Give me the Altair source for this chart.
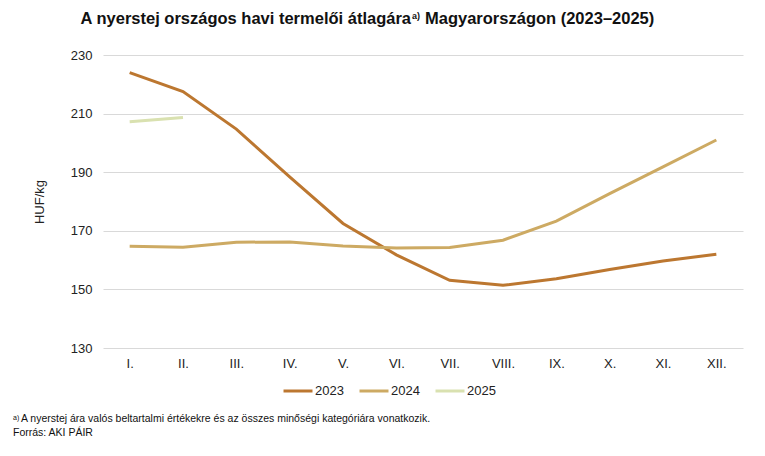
import altair as alt
import pandas as pd

months = ["I.", "II.", "III.", "IV.", "V.", "VI.", "VII.", "VIII.", "IX.", "X.", "XI.", "XII."]
v2023 = [224.0, 217.5, 204.7, 188.4, 172.5, 161.8, 153.1, 151.4, 153.6, 156.8, 159.7, 162.0]
v2024 = [164.7, 164.4, 166.1, 166.2, 164.8, 164.1, 164.3, 166.8, 173.3, 182.7, 191.8, 201.0]
v2025 = [207.2, 208.7]
years = ["2023", "2024", "2025"]
colors = ["#BC7730", "#CDAA63", "#D9E1B0"]

rows = []
for y, vals in zip(years, [v2023, v2024, v2025]):
    for m, v in zip(months, vals):
        rows.append({"honap": m, "ev": y, "ertek": v})
df = pd.DataFrame(rows)

W, H = 640, 293
FONT = "Liberation Sans"

lines = alt.Chart(df).mark_line(strokeWidth=3).encode(
    x=alt.X("honap:N", sort=months, title=None,
            scale=alt.Scale(type="point", padding=0.5),
            axis=alt.Axis(labelAngle=0, labelPadding=9, ticks=False, domain=False,
                          labelFontSize=13, labelColor="#222", labelFont=FONT, grid=False)),
    y=alt.Y("ertek:Q", title="HUF/kg",
            scale=alt.Scale(domain=[130, 230], nice=False, zero=False),
            axis=alt.Axis(values=[130, 150, 170, 190, 210, 230], ticks=False, domain=False,
                          labelFontSize=13, labelColor="#222", labelFont=FONT, labelPadding=11,
                          titleFontSize=13, titleFont=FONT, titleFontWeight="normal",
                          titleColor="#222", titlePadding=24,
                          gridColor="#D9D9D9", gridWidth=1)),
    color=alt.Color("ev:N", scale=alt.Scale(domain=years, range=colors), title=None,
                    legend=alt.Legend(orient="none", legendX=179, legendY=320, direction="horizontal",
                                      symbolType="stroke", symbolSize=840, symbolStrokeWidth=3,
                                      labelFontSize=13, labelFont=FONT, labelColor="#222",
                                      columnPadding=9, labelOffset=1)),
    detail="ev:N",
)

def txt(text, x, y, size, weight="normal", align="left"):
    return alt.Chart(pd.DataFrame({"t": [text]})).mark_text(
        font=FONT, fontSize=size, fontWeight=weight, align=align, baseline="alphabetic", color="#111"
    ).encode(x=alt.value(x), y=alt.value(y), text="t:N")

title_main = "A nyerstej országos havi termelői átlagára"
title_sup = "a)"
title_rest = "Magyarországon (2023–2025)"
foot1 = "A nyerstej ára valós beltartalmi értékekre és az összes minőségi kategóriára vonatkozik."
foot_sup = "a)"
foot2 = "Forrás: AKI PÁIR"

layers = [
    lines,
    txt(title_main, 308, -31, 16.5, "bold", "right"),
    txt(title_sup, 309, -36, 9, "bold"),
    txt(title_rest, 322, -31, 16.5, "bold"),
    txt(foot_sup, -90, 365, 7),
    txt(foot1, -82, 367, 10.5),
    txt(foot2, -90, 381, 10.5),
]

chart = alt.layer(*layers).properties(
    width=W, height=H,
    autosize=alt.AutoSizeParams(type="none"),
    padding={"left": 95, "top": 47, "right": 14, "bottom": 100},
).configure(background="white").configure_view(stroke=None)

chart.save("out.html", embed_options={"renderer": "svg", "actions": False})
